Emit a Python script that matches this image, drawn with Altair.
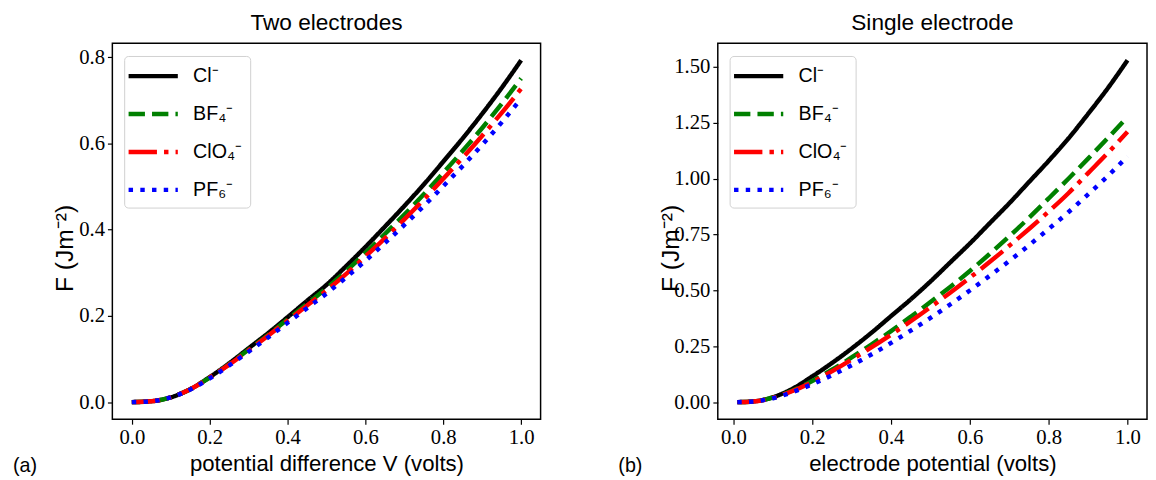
import altair as alt
import pandas as pd

ions = ["Cl\u207b", "BF\u2084\u207b", "ClO\u2084\u207b", "PF\u2086\u207b"]
colors = ["#000000", "#008000", "#ff0000", "#0000ff"]
dashes = [[1, 0], [16.6, 7.2], [28.8, 7.2, 4.5, 7.2], [4.5, 7.4]]

# Panel (a): two electrodes
v_a = [0.0, 0.05, 0.1, 0.15, 0.2, 0.25, 0.3, 0.35, 0.4, 0.45, 0.5,
       0.55, 0.6, 0.65, 0.7, 0.75, 0.8, 0.85, 0.9, 0.95, 1.0]
cl_a = [0, 0.002, 0.011, 0.030, 0.058, 0.090, 0.125, 0.160, 0.197, 0.235, 0.272,
        0.315, 0.360, 0.407, 0.455, 0.505, 0.558, 0.612, 0.669, 0.729, 0.793]
bf4_a = [0, 0.002, 0.011, 0.030, 0.057, 0.088, 0.122, 0.156, 0.192, 0.228, 0.264,
         0.304, 0.346, 0.390, 0.435, 0.482, 0.532, 0.583, 0.636, 0.692, 0.751]
clo4_a = [0, 0.002, 0.011, 0.030, 0.057, 0.087, 0.120, 0.154, 0.189, 0.224, 0.259,
          0.297, 0.338, 0.380, 0.424, 0.470, 0.518, 0.567, 0.618, 0.671, 0.727]
pf6_a = [0, 0.002, 0.011, 0.029, 0.055, 0.085, 0.117, 0.150, 0.184, 0.218, 0.252,
         0.289, 0.328, 0.369, 0.411, 0.455, 0.501, 0.548, 0.597, 0.649, 0.704]

# Panel (b): single electrode
v_b = [0.01, 0.05, 0.1, 0.15, 0.2, 0.25, 0.3, 0.35, 0.4, 0.45, 0.5,
       0.55, 0.6, 0.65, 0.7, 0.75, 0.8, 0.85, 0.9, 0.95, 1.0]
cl_b = [0, 0.003, 0.022, 0.060, 0.115, 0.175, 0.240, 0.310, 0.385, 0.460, 0.540,
        0.625, 0.710, 0.800, 0.890, 0.985, 1.080, 1.180, 1.290, 1.405, 1.530]
bf4_b = [0, 0.003, 0.020, 0.052, 0.095, 0.145, 0.200, 0.258, 0.318, 0.382, 0.448,
         0.515, 0.587, 0.663, 0.742, 0.825, 0.912, 1.000, 1.090, 1.182, 1.277]
clo4_b = [0, 0.003, 0.019, 0.050, 0.090, 0.138, 0.190, 0.245, 0.302, 0.362, 0.425,
          0.490, 0.557, 0.627, 0.700, 0.775, 0.853, 0.935, 1.025, 1.115, 1.210]
pf6_b = [0, 0.003, 0.017, 0.045, 0.080, 0.120, 0.165, 0.213, 0.265, 0.320, 0.377,
         0.437, 0.500, 0.565, 0.632, 0.702, 0.775, 0.850, 0.930, 1.012, 1.100]

x_ticks = [0.0, 0.2, 0.4, 0.6, 0.8, 1.0]
y_ticks_a = [0.0, 0.2, 0.4, 0.6, 0.8]
y_ticks_b = [0.0, 0.25, 0.5, 0.75, 1.0, 1.25, 1.5]


def long_df(v, series):
    rows = []
    for ion, vals in zip(ions, series):
        for i, (x, y) in enumerate(zip(v, vals)):
            rows.append({"v": x, "F": y, "ion": ion, "order": i})
    return pd.DataFrame(rows)


df_a = long_df(v_a, [cl_a, bf4_a, clo4_a, pf6_a])
df_b = long_df(v_b, [cl_b, bf4_b, clo4_b, pf6_b])

SANS = "Liberation Sans"
SERIF = "Liberation Serif"
W_A, W_B, H = 435, 436, 382

legend = alt.Legend(
    title=None, orient="none", legendX=12, legendY=13,
    symbolType="M-2.5,0H2.5", symbolSize=400, symbolStrokeWidth=4.5,
    symbolOffset=9,
    labelFont=SANS, labelFontSize=20, labelColor="black", labelOffset=28,
    rowPadding=15.5, padding=8, fillColor="rgba(255,255,255,0.85)",
    strokeColor="#d0d0d0", cornerRadius=4,
)


def panel(df, title, xtitle, xdom, ydom, yticks, yfmt, width, tag):
    color = alt.Color("ion:N", scale=alt.Scale(domain=ions, range=colors), legend=legend)
    dash = alt.StrokeDash("ion:N", scale=alt.Scale(domain=ions, range=dashes), legend=legend)
    lines = alt.Chart(df).mark_line(strokeWidth=4.5, interpolate="monotone", clip=True).encode(
        x=alt.X("v:Q", scale=alt.Scale(domain=xdom, nice=False, zero=False),
                axis=alt.Axis(values=x_ticks, format=".1f", title=xtitle,
                              labelFont=SERIF, labelFontSize=21, labelColor="black",
                              labelPadding=3, titlePadding=5)),
        y=alt.Y("F:Q", scale=alt.Scale(domain=ydom, nice=False, zero=False),
                axis=alt.Axis(values=yticks, format=yfmt, title="F    (Jm\u207b\u00b2)",
                              labelFont=SERIF, labelFontSize=21, labelColor="black",
                              labelPadding=3, titleFontSize=25,
                              titleX=-48, titleY=208, titleAngle=-90,
                              titleAlign="center", titleBaseline="middle")),
        color=color,
        strokeDash=dash,
        order="order:Q",
    )
    label = alt.Chart(pd.DataFrame({"t": [tag]})).mark_text(
        font=SANS, fontSize=20, align="left", baseline="middle", color="black"
    ).encode(x=alt.value(-101), y=alt.value(430), text="t:N")
    return alt.layer(lines, label).properties(
        width=width, height=H,
        title=alt.TitleParams(title, font=SANS, fontSize=23, fontWeight="normal",
                              color="black", offset=8),
    )


left = panel(df_a, "Two electrodes", "potential difference V (volts)",
             [-0.05, 1.05], [-0.0397, 0.8327], y_ticks_a, ".1f", W_A, "(a)")
right = panel(df_b, "Single electrode", "electrode potential (volts)",
              [-0.0395, 1.0495], [-0.0765, 1.6065], y_ticks_b, ".2f", W_B, "(b)")

chart = alt.hconcat(left, right, spacing=77).resolve_scale(
    color="independent", strokeDash="independent"
).properties(
    padding={"left": 4, "top": 0, "right": 0, "bottom": 0}
).configure_view(
    stroke="black", strokeWidth=1.5
).configure_axis(
    domain=False, grid=False, ticks=True, tickColor="black", tickSize=5, tickWidth=1.2,
    labelFont=SERIF, labelFontSize=21, labelColor="black",
    titleFont=SANS, titleFontSize=22.5, titleFontWeight="normal", titleColor="black",
)

chart.save("out.html", embed_options={"renderer": "svg", "actions": False})
